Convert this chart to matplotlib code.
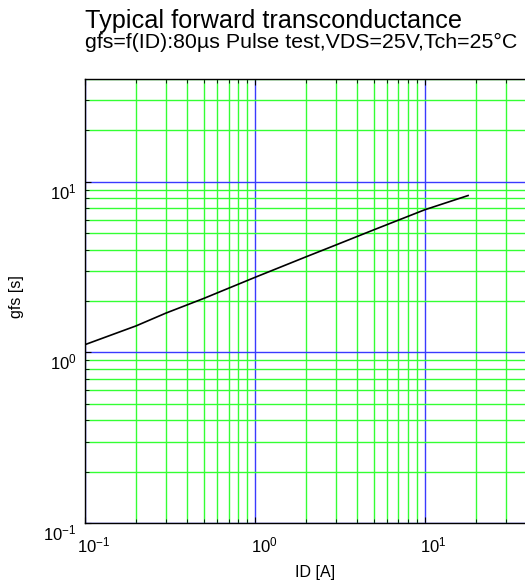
import numpy as np
import matplotlib
matplotlib.use("Agg")
import matplotlib.pyplot as plt
import matplotlib.transforms as mtransforms
from matplotlib.ticker import LogLocator, NullFormatter

plt.rcParams['font.family'] = ['Liberation Sans', 'DejaVu Sans']
plt.rcParams['mathtext.fontset'] = 'custom'
plt.rcParams['mathtext.rm'] = 'Liberation Sans'
plt.rcParams['mathtext.it'] = 'Liberation Sans'
plt.rcParams['mathtext.default'] = 'regular'
plt.rcParams['axes.unicode_minus'] = False

# Data
id_amps = [0.1, 0.2, 0.3, 0.5, 1.0, 2.0, 3.0, 5.0, 10.0, 18.0]
gfs = [1.11, 1.43, 1.70, 2.07, 2.75, 3.63, 4.26, 5.22, 6.85, 8.3]

title = "Typical forward transconductance"
subtitle = "gfs=f(ID):80µs Pulse test,VDS=25V,Tch=25°C"

fig = plt.figure(figsize=(5.25, 5.87), dpi=100)
ax = fig.add_axes([85 / 525, 64 / 587, 442 / 525, 444 / 587])

ax.plot(id_amps, gfs, color='black', linewidth=1.2, zorder=3)

ax.set_xscale('log')
ax.set_yscale('log')
ax.set_xlim(0.1, 40)
ax.set_ylim(0.1, 40)

for axis in (ax.xaxis, ax.yaxis):
    axis.set_major_locator(LogLocator(base=10, numticks=10))
    axis.set_minor_locator(LogLocator(base=10, subs=np.arange(2, 10), numticks=20))
    axis.set_minor_formatter(NullFormatter())

ax.grid(which='major', color='#3a3aff', linewidth=1.0)
ax.grid(which='minor', color='#33ff33', linewidth=1.0)
ax.set_axisbelow(True)

ax.tick_params(which='both', direction='in', top=True, right=False, labelsize=12, colors='black')
ax.tick_params(which='major', length=4)
ax.tick_params(axis='x', which='major', pad=9)
ax.tick_params(axis='y', which='major', pad=6)
ax.tick_params(which='minor', length=3)

ax.spines['right'].set_visible(False)
for s in ('left', 'bottom', 'top'):
    ax.spines[s].set_linewidth(1.0)

# the reference has its tick labels shifted a bit off the grid lines
dx = mtransforms.ScaledTranslation(9 / 100, 0, fig.dpi_scale_trans)
for lab in ax.get_xticklabels():
    lab.set_transform(lab.get_transform() + dx)
dy = mtransforms.ScaledTranslation(0, -9 / 100, fig.dpi_scale_trans)
for lab in ax.get_yticklabels():
    lab.set_transform(lab.get_transform() + dy)

ax.set_xlabel("ID [A]", fontsize=11.5)
ax.xaxis.set_label_coords(0.52, -0.095)
ax.set_ylabel("gfs [s]", fontsize=11.5)
ax.yaxis.set_label_coords(-0.138, 0.51)

fig.text(85 / 525, 1 - 28 / 587, title, fontsize=18.2, ha='left', va='baseline')
fig.text(85 / 525, 1 - 48 / 587, subtitle, fontsize=15.4, ha='left', va='baseline')

fig.savefig("out.png", dpi=100)
